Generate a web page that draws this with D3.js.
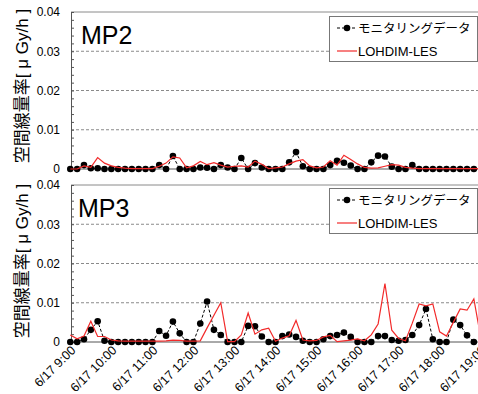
<!DOCTYPE html>
<html>
<head>
<meta charset="utf-8">
<script src="https://cdn.jsdelivr.net/npm/d3@7"></script>
<style>
  body { margin: 0; background: #fff; }
  text { font-family: "Liberation Sans", Arial, "Noto Sans CJK JP", sans-serif; }
</style>
</head>
<body>
<div id="chart"></div>
<script>
////////////////////////////////////////////////////////////////////////////////
// Data (10 minute steps from 6/17 9:00)
////////////////////////////////////////////////////////////////////////////////
var hourLabels = ["6/17 9:00", "6/17 10:00", "6/17 11:00", "6/17 12:00", "6/17 13:00",
                  "6/17 14:00", "6/17 15:00", "6/17 16:00", "6/17 17:00", "6/17 18:00", "6/17 19:00"];
var yTicks = [0, 0.01, 0.02, 0.03, 0.04];
var yMinorTicks = [0.002, 0.004, 0.006, 0.008, 0.012, 0.014, 0.016, 0.018, 0.022, 0.024,
                   0.026, 0.028, 0.032, 0.034, 0.036, 0.038];
var seriesNames = ["モニタリングデータ", "LOHDIM-LES"];

// MP2
var mp2Monitor = [0, 0, 0.001, 0.0002, 0.0002, 0, 0, 0, 0, 0,
                  0, 0, 0, 0.001, 0, 0.0033, 0, 0, 0, 0.0004,
                  0.0003, 0, 0.001, 0.0004, 0, 0.0028, 0, 0.0015, 0.0004, 0,
                  0, 0, 0.0017, 0.0043, 0.0007, 0, 0, 0, 0.001, 0.0021,
                  0.0016, 0.0009, 0, 0, 0.0017, 0.0034, 0.0032, 0.0006, 0, 0,
                  0.001, 0, 0, 0, 0, 0, 0, 0, 0, 0];
var mp2Les = [0, 0, 0.0008, 0.0004, 0.0029, 0.0015, 0.0008, 0.0004, 0.0002, 0.0001,
              0.0001, 0.0001, 0.0001, 0.0007, 0.0015, 0.0031, 0.0028, 0.0003, 0.0008, 0.0019,
              0.0011, 0.0016, 0.001, 0.0005, 0.0007, 0.0008, 0.0005, 0.002, 0.0012, 0.0001,
              0.0003, 0.0005, 0.0013, 0.002, 0.0024, 0.0008, 0.0003, 0.0005, 0.0021, 0.001,
              0.0035, 0.0024, 0.0013, 0.0004, 0.0002, 0.0003, 0.0007, 0.0011, 0.001, 0.0004,
              0.0002, 0.0001, 0.0001, 0.0001, 0.0001, 0.0001, 0.0001, 0.0001, 0.0001, 0.0001,
              0.0001];

// MP3
var mp3Monitor = [0, 0, 0.0007, 0.0031, 0.0053, 0.0003, 0, 0, 0, 0,
                  0, 0, 0, 0.0028, 0.0016, 0.0052, 0.0022, 0, 0, 0.0047,
                  0.0103, 0.0031, 0.0018, 0, 0, 0, 0.0041, 0.004, 0.0014, 0,
                  0, 0.0015, 0.0019, 0.0013, 0.0003, 0, 0, 0.0007, 0.0015, 0.0018,
                  0.0024, 0.0013, 0, 0, 0, 0.0015, 0.0015, 0.0005, 0.0003, 0.0005,
                  0.0018, 0.0043, 0.0084, 0.0007, 0, 0, 0.0057, 0.0043, 0.0017, 0];
var mp3Les = [0.0018, 0.0008, 0.0015, 0.0053, 0.0014, 0.0014, 0.0005, 0.0003, 0.0002, 0.0002,
              0.0002, 0.0002, 0.0002, 0.0002, 0.0003, 0.0005, 0.0004, 0.0002, 0.0002, 0.0003,
              0.0036, 0.0068, 0.01, 0.0001, 0.0001, 0.0018, 0.0074, 0.002, 0.0031, 0.0035,
              0.0002, 0.001, 0.0016, 0.0055, 0.0005, 0.0003, 0.0004, 0.0013, 0.0017, 0.0001,
              0.0003, 0.0005, 0.0008, 0.0003, 0.0018, 0.0046, 0.0149, 0.003, 0.0009, 0.0003,
              0.0048, 0.0097, 0.0092, 0.0097, 0.0026, 0.0015, 0.005, 0.0084, 0.0081, 0.011,
              0.0012];

////////////////////////////////////////////////////////////////////////////////
// Layout
////////////////////////////////////////////////////////////////////////////////
var width = 478, height = 394;
var plotLeft = 71, plotRight = 500;

var svg = d3.select("#chart").append("svg")
   .attr("width", width)
   .attr("height", height)
   .style("display", "block");

var x = d3.scaleLinear().domain([0, 60]).range([70.3, 480.7]);

var panels = [
   { name: "MP2", top: 12, bottom: 169, monitor: mp2Monitor, les: mp2Les,
     nameX: 81, nameY: 44, legendY: 16, titleY: 86, xLabels: false },
   { name: "MP3", top: 185, bottom: 342, monitor: mp3Monitor, les: mp3Les,
     nameX: 78, nameY: 217, legendY: 188, titleY: 261, xLabels: true }
];

////////////////////////////////////////////////////////////////////////////////
// Draw one panel
////////////////////////////////////////////////////////////////////////////////
function drawPanel(p) {
   var y = d3.scaleLinear().domain([0, 0.04]).range([p.bottom, p.top]);
   var g = svg.append("g");

   // dashed grid lines
   g.selectAll("line.grid")
      .data([0.01, 0.02, 0.03])
      .enter().append("line")
      .attr("class", "grid")
      .attr("x1", plotLeft).attr("x2", plotRight)
      .attr("y1", function(d) { return y(d); })
      .attr("y2", function(d) { return y(d); })
      .attr("stroke", "#8a8a8a")
      .attr("stroke-width", 1)
      .attr("stroke-dasharray", "3,2");

   // top border
   g.append("line")
      .attr("x1", plotLeft).attr("x2", plotRight)
      .attr("y1", y(0.04)).attr("y2", y(0.04))
      .attr("stroke", "#8a8a8a");

   // y axis with inner ticks
   var yAxis = d3.axisLeft(y)
      .tickValues(yTicks)
      .tickFormat(function(d) { return d === 0 ? "0" : d3.format(".2f")(d); })
      .tickSizeInner(-3)
      .tickSizeOuter(0)
      .tickPadding(11);
   var ax = g.append("g")
      .attr("transform", "translate(" + plotLeft + ",0)")
      .call(yAxis);
   ax.select(".domain").attr("stroke", "#555");
   ax.selectAll(".tick line").attr("stroke", "#555");
   ax.selectAll("text")
      .attr("font-size", "12px")
      .attr("font-family", "'Liberation Sans', Arial, sans-serif")
      .attr("fill", "#000");

   var minor = d3.axisLeft(y).tickValues(yMinorTicks).tickFormat("").tickSizeInner(-3).tickSizeOuter(0);
   var mx = g.append("g")
      .attr("transform", "translate(" + plotLeft + ",0)")
      .call(minor);
   mx.select(".domain").remove();
   mx.selectAll(".tick line").attr("stroke", "#555");

   // zero line (x axis)
   g.append("line")
      .attr("x1", plotLeft).attr("x2", plotRight)
      .attr("y1", y(0)).attr("y2", y(0))
      .attr("stroke", "#555");

   // monitoring data: dashed black line with dots
   var line = d3.line()
      .x(function(d, i) { return x(i); })
      .y(function(d) { return y(d); });

   g.append("path")
      .datum(p.monitor)
      .attr("d", line)
      .attr("fill", "none")
      .attr("stroke", "#000")
      .attr("stroke-width", 1)
      .attr("stroke-dasharray", "3,2");

   g.selectAll("circle.mon")
      .data(p.monitor)
      .enter().append("circle")
      .attr("class", "mon")
      .attr("cx", function(d, i) { return x(i); })
      .attr("cy", function(d) { return y(d); })
      .attr("r", 3.3)
      .attr("fill", "#000");

   // LOHDIM-LES red line
   g.append("path")
      .datum(p.les)
      .attr("d", line)
      .attr("fill", "none")
      .attr("stroke", "#f22a2a")
      .attr("stroke-width", 1.2);

   // panel name
   g.append("text")
      .attr("x", p.nameX).attr("y", p.nameY)
      .attr("font-size", "25px")
      .attr("fill", "#000")
      .text(p.name);

   // y axis title
   g.append("text")
      .attr("transform", "translate(27.5," + p.titleY + ") rotate(-90)")
      .attr("text-anchor", "middle")
      .attr("font-size", "17px")
      .attr("fill", "#000")
      .text("空間線量率[ μ Gy/h ]");

   // legend
   var lg = g.append("g").attr("transform", "translate(329," + p.legendY + ")");
   lg.append("rect")
      .attr("x", 0.5).attr("y", 0.5)
      .attr("width", 148).attr("height", 45)
      .attr("fill", "#fff")
      .attr("stroke", "#777");
   lg.append("line")
      .attr("x1", 8).attr("x2", 28).attr("y1", 12).attr("y2", 12)
      .attr("stroke", "#000").attr("stroke-dasharray", "3,2");
   lg.append("circle").attr("cx", 18).attr("cy", 12).attr("r", 3.3).attr("fill", "#000");
   lg.append("line")
      .attr("x1", 8).attr("x2", 28).attr("y1", 35).attr("y2", 35)
      .attr("stroke", "#f22a2a").attr("stroke-width", 1.2);
   lg.selectAll("text")
      .data(seriesNames)
      .enter().append("text")
      .attr("x", 29)
      .attr("y", function(d, i) { return i === 0 ? 16.5 : 39.5; })
      .attr("font-size", function(d, i) { return i === 0 ? "12.5px" : "13px"; })
      .attr("fill", "#000")
      .text(function(d) { return d; });

   // rotated time labels
   if (p.xLabels) {
      g.selectAll("text.xl")
         .data(hourLabels)
         .enter().append("text")
         .attr("class", "xl")
         .attr("text-anchor", "end")
         .attr("font-size", "12.5px")
         .attr("fill", "#000")
         .attr("transform", function(d, i) {
            return "translate(" + (x(i * 6) + 6) + "," + (p.bottom + 9) + ") rotate(-45)";
         })
         .text(function(d) { return d; });
   }
}

panels.forEach(drawPanel);
</script>
</body>
</html>
